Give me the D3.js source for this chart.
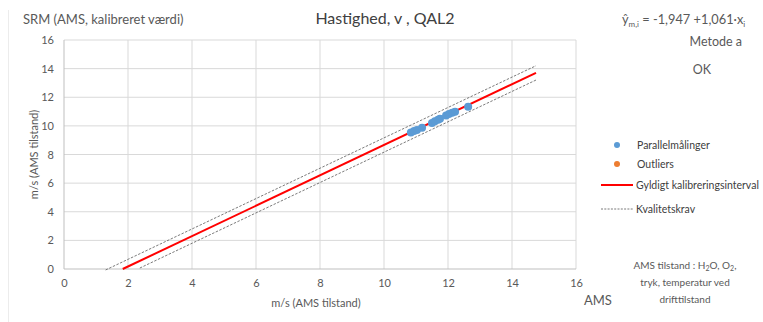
<!DOCTYPE html>
<html><head><meta charset="utf-8">
<script src="https://cdn.jsdelivr.net/npm/d3@7"></script>
<style>body{margin:0;background:#fff}svg{display:block;font-family:Lato,"Open Sans",sans-serif}</style>
</head><body><svg id="c" width="763" height="322"></svg>
<script>
const xTicks=[0,2,4,6,8,10,12,14,16];
const yTicks=[0,2,4,6,8,10,12,14,16];
const pointsX=[10.84,10.94,11.03,11.19,11.5,11.59,11.69,11.75,11.94,12.03,12.13,12.22,12.63];
const pointsY=[9.53,9.64,9.72,9.87,10.2,10.33,10.42,10.49,10.73,10.83,10.91,10.99,11.33];
const intercept=-1.947, slope=1.061;
const calX=[1.835,14.75];
const qualOffset=0.5;
const qualUpperX=[1.3,14.75];
const qualLowerX=[2.37,14.75];
const legendLabels=["Parallelmålinger","Outliers","Gyldigt kalibreringsinterval","Kvalitetskrav"];

const svg=d3.select("#c");
const x=d3.scaleLinear().domain([0,16]).range([64,576]);
const y=d3.scaleLinear().domain([0,16]).range([269,40]);
const grey="#595959";

svg.append("line").attr("x1",8.5).attr("x2",8.5).attr("y1",10).attr("y2",322).attr("stroke","#ececec");

// gridlines
svg.append("g").selectAll("line").data(yTicks.slice(1)).join("line")
 .attr("x1",x(0)).attr("x2",x(16)).attr("y1",d=>y(d)).attr("y2",d=>y(d)).attr("stroke","#d9d9d9");
svg.append("g").selectAll("line").data(xTicks.slice(1)).join("line")
 .attr("y1",y(0)).attr("y2",y(16)).attr("x1",d=>x(d)).attr("x2",d=>x(d)).attr("stroke","#d9d9d9");
// axes lines
svg.append("line").attr("x1",x(0)).attr("x2",x(16)).attr("y1",y(0)).attr("y2",y(0)).attr("stroke","#bfbfbf");
svg.append("line").attr("x1",x(0)).attr("x2",x(0)).attr("y1",y(0)).attr("y2",y(16)).attr("stroke","#bfbfbf");

const xa=svg.append("g").attr("transform",`translate(0,${y(0)})`).call(d3.axisBottom(x).tickValues(xTicks).tickSize(0).tickPadding(10));
xa.select(".domain").remove();
const ya=svg.append("g").attr("transform",`translate(${x(0)},0)`).call(d3.axisLeft(y).tickValues(yTicks).tickSize(0).tickPadding(10));
ya.select(".domain").remove();
svg.selectAll(".tick text").attr("fill",grey).style("font-size","11px").style("font-family","Lato,sans-serif");

// dashed quality lines
const line=d3.line().x(d=>x(d[0])).y(d=>y(d[1]));
const up=qualUpperX.map(v=>[v,intercept+slope*v+qualOffset]);
const lo=qualLowerX.map(v=>[v,intercept+slope*v-qualOffset]);
[up,lo].forEach(p=>svg.append("path").attr("d",line(p)).attr("fill","none").attr("stroke","#595959").attr("stroke-width",0.8).attr("stroke-dasharray","2.5,1.5"));
svg.append("path").attr("d",line(calX.map(v=>[v,intercept+slope*v]))).attr("fill","none").attr("stroke","#ff0000").attr("stroke-width",2);

// points
svg.append("g").selectAll("circle").data(pointsX.map((v,i)=>[v,pointsY[i]])).join("circle")
 .attr("cx",d=>x(d[0])).attr("cy",d=>y(d[1])).attr("r",4).attr("fill","#5b9bd5");

// texts
svg.append("text").attr("x",23).attr("y",24).attr("fill",grey).style("font-size","13px").text("SRM (AMS, kalibreret værdi)");
svg.append("text").attr("x",385).attr("y",24).attr("text-anchor","middle").attr("fill","#404040").style("font-size","16px").text("Hastighed, v , QAL2");
const eq=svg.append("text").attr("x",622).attr("y",24).attr("fill",grey).style("font-size","12.8px");
eq.append("tspan").text("ŷ");
eq.append("tspan").attr("dy",3).style("font-size","8px").text("m,i");
eq.append("tspan").attr("dy",-3).text(" = -1,947 +1,061·x");
eq.append("tspan").attr("dy",3).style("font-size","8px").text("i");
svg.append("text").attr("x",742).attr("y",46).attr("text-anchor","end").attr("fill",grey).style("font-size","12.5px").text("Metode a");
svg.append("text").attr("x",702).attr("y",74).attr("text-anchor","middle").attr("fill",grey).style("font-size","12.5px").text("OK");

svg.append("text").attr("transform",`translate(38,${y(8)}) rotate(-90)`).attr("text-anchor","middle").attr("fill",grey).style("font-size","11px").text("m/s (AMS tilstand)");
svg.append("text").attr("x",316).attr("y",307).attr("text-anchor","middle").attr("fill",grey).style("font-size","11px").text("m/s (AMS tilstand)");
svg.append("text").attr("x",584).attr("y",305).attr("fill",grey).style("font-size","13px").text("AMS");

// legend
const lg=svg.append("g");
const ly=[145,164,185,209];
lg.append("circle").attr("cx",617).attr("cy",ly[0]).attr("r",3).attr("fill","#5b9bd5");
lg.append("circle").attr("cx",617).attr("cy",ly[1]).attr("r",3).attr("fill","#ed7d31");
lg.append("line").attr("x1",601).attr("x2",633).attr("y1",ly[2]).attr("y2",ly[2]).attr("stroke","#ff0000").attr("stroke-width",2);
lg.append("line").attr("x1",601).attr("x2",633).attr("y1",ly[3]).attr("y2",ly[3]).attr("stroke","#595959").attr("stroke-width",0.8).attr("stroke-dasharray","2,1.3");
legendLabels.forEach((t,i)=>lg.append("text").attr("x",i<2?637:636).attr("y",ly[i]+4).attr("fill","#404040").style("font-size","10.5px").text(t));

// note
const note=svg.append("text").attr("text-anchor","middle").attr("fill",grey).style("font-size","10px");
const n1=note.append("tspan").attr("x",685).attr("y",269);
n1.append("tspan").text("AMS tilstand : H");
n1.append("tspan").attr("dy",2).style("font-size","7px").text("2");
n1.append("tspan").attr("dy",-2).text("O, O");
n1.append("tspan").attr("dy",2).style("font-size","7px").text("2");
n1.append("tspan").attr("dy",-2).text(",");
note.append("tspan").attr("x",685).attr("y",286).text("tryk, temperatur ved");
note.append("tspan").attr("x",685).attr("y",303).text("drifttilstand");
</script></body></html>
